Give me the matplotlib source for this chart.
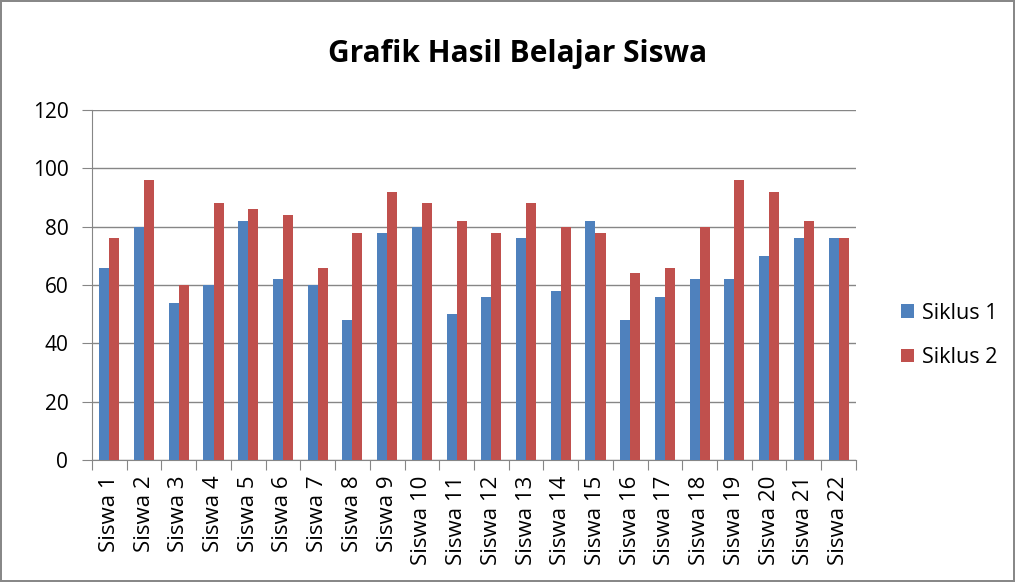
import matplotlib.pyplot as plt
import numpy as np

# nilai siswa per siklus
students = ['Siswa %d' % i for i in range(1, 23)]
siklus1 = [66, 80, 54, 60, 82, 62, 60, 48, 78, 80, 50, 56, 76, 58, 82, 48, 56, 62, 62, 70, 76, 76]
siklus2 = [76, 96, 60, 88, 86, 84, 66, 78, 92, 88, 82, 78, 88, 80, 78, 64, 66, 80, 96, 92, 82, 76]
y_ticks = [0, 20, 40, 60, 80, 100, 120]

plt.rcParams['font.family'] = ['Open Sans', 'DejaVu Sans']

fig = plt.figure(figsize=(10.15, 5.82), dpi=100)
fig.patch.set_edgecolor('#888888')
fig.patch.set_linewidth(1.5)
ax = fig.add_axes([0.0906, 0.2096, 0.7527, 0.6014])

x = np.arange(len(students))
w = 0.29
ax.bar(x - w/2, siklus1, w, color='#4F81BD', label='Siklus 1', zorder=3)
ax.bar(x + w/2, siklus2, w, color='#C0504D', label='Siklus 2', zorder=3)

ax.set_xlim(-0.5, len(students) - 0.5)
ax.set_ylim(0, 120)
ax.set_yticks(y_ticks)
ax.tick_params(axis='y', labelsize=15, length=7, pad=10, color='#868686',
               labelcolor='black')
ax.yaxis.grid(True, color='#868686', linewidth=1, zorder=0)

# x ticks between categories, labels at centers
ax.set_xticks(np.arange(-0.5, len(students)), minor=False)
ax.set_xticklabels([])
ax.set_xticks(x, minor=True)
ax.set_xticklabels(students, minor=True, rotation=90, fontsize=16)
ax.tick_params(axis='x', which='major', length=7, color='#868686')
ax.tick_params(axis='x', which='minor', length=0, pad=11)

for s in ['top', 'right']:
    ax.spines[s].set_visible(False)
for s in ['left', 'bottom']:
    ax.spines[s].set_color('#868686')

fig.text(0.51, 0.908, 'Grafik Hasil Belajar Siswa', ha='center', va='center',
         fontsize=21.5, weight='bold')

ax.legend(loc='center left', bbox_to_anchor=(1.034, 0.356), frameon=False,
          fontsize=15.5, handlelength=0.6, handleheight=0.6, labelspacing=1.1,
          handletextpad=0.36)

plt.savefig('out.png', dpi=100, edgecolor=fig.get_edgecolor())
